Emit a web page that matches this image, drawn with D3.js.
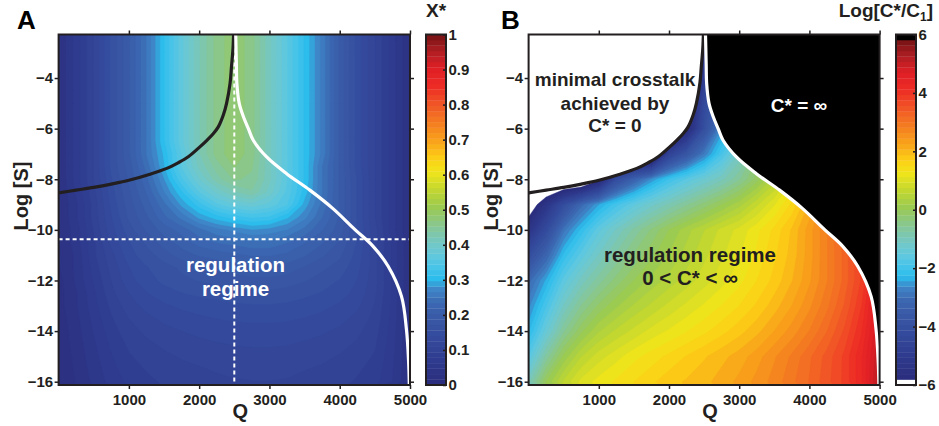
<!DOCTYPE html>
<html>
<head>
<meta charset="utf-8">
<script src="https://cdn.jsdelivr.net/npm/d3@7"></script>
<style>
  html, body { margin: 0; padding: 0; background: #fff; }
  svg { display: block; font-family: "Liberation Sans", Arial, Helvetica, sans-serif; font-weight: bold; }
</style>
</head>
<body>
<svg id="fig" width="939" height="426"></svg>
<script>
// ---- sample grid: Q (columns) and log10[S] (rows) ----
const qSamples = [0, 250, 500, 750, 1000, 1250, 1500, 1750, 2000, 2250, 2500,
                  2750, 3000, 3250, 3500, 3750, 4000, 4250, 4500, 4750, 5000];
const logSSamplesA = [-2, -2.5, -3, -3.5, -4, -4.5, -5, -5.5, -6, -6.5, -7, -7.5, -8, -8.5, -9,
                      -9.5, -10, -10.5, -11, -11.5, -12, -12.5, -13, -13.5, -14, -14.5, -15, -15.5, -16];
const logSSamplesB = [-2, -3, -4, -5, -6, -7, -8, -9, -10, -11, -12, -13, -14, -15, -16];

// ---- panel A: optimal crosstalk X* (one row per log[S] sample) ----
const xStarRows = [
  [0.03,0.07,0.11,0.16,0.20,0.25,0.31,0.37,0.42,0.46,0.48,0.46,0.41,0.36,0.31,0.26,0.20,0.15,0.11,0.07,0.03], // -2
  [0.03,0.07,0.11,0.16,0.20,0.25,0.31,0.37,0.42,0.46,0.48,0.46,0.41,0.36,0.31,0.26,0.20,0.15,0.11,0.07,0.03], // -2.5
  [0.03,0.07,0.11,0.16,0.20,0.25,0.31,0.37,0.42,0.46,0.48,0.46,0.41,0.36,0.31,0.26,0.20,0.15,0.11,0.07,0.03], // -3
  [0.03,0.07,0.11,0.16,0.20,0.25,0.31,0.37,0.42,0.46,0.48,0.46,0.41,0.36,0.31,0.26,0.20,0.15,0.11,0.07,0.03], // -3.5
  [0.03,0.07,0.11,0.16,0.20,0.25,0.31,0.37,0.42,0.46,0.48,0.46,0.41,0.36,0.31,0.26,0.20,0.15,0.11,0.07,0.03], // -4
  [0.03,0.07,0.11,0.16,0.20,0.25,0.31,0.37,0.42,0.46,0.48,0.46,0.41,0.36,0.31,0.26,0.20,0.15,0.11,0.07,0.03], // -4.5
  [0.03,0.07,0.11,0.16,0.20,0.25,0.31,0.37,0.42,0.46,0.48,0.46,0.41,0.36,0.31,0.26,0.20,0.15,0.11,0.07,0.03], // -5
  [0.03,0.07,0.11,0.16,0.20,0.25,0.31,0.37,0.42,0.46,0.48,0.46,0.41,0.36,0.31,0.26,0.20,0.15,0.11,0.07,0.03], // -5.5
  [0.03,0.07,0.11,0.16,0.20,0.25,0.31,0.37,0.42,0.46,0.48,0.46,0.41,0.36,0.31,0.26,0.20,0.15,0.11,0.07,0.03], // -6
  [0.03,0.07,0.11,0.16,0.20,0.25,0.31,0.37,0.42,0.46,0.48,0.46,0.41,0.36,0.31,0.26,0.20,0.15,0.11,0.07,0.03], // -6.5
  [0.03,0.07,0.11,0.16,0.20,0.25,0.30,0.36,0.42,0.46,0.48,0.46,0.41,0.36,0.31,0.26,0.20,0.15,0.11,0.07,0.03], // -7
  [0.03,0.07,0.11,0.16,0.195,0.24,0.295,0.36,0.41,0.445,0.47,0.455,0.41,0.36,0.31,0.25,0.20,0.15,0.11,0.07,0.03], // -7.5
  [0.03,0.07,0.11,0.155,0.19,0.23,0.28,0.34,0.39,0.43,0.455,0.45,0.41,0.36,0.31,0.25,0.20,0.155,0.11,0.07,0.03], // -8
  [0.03,0.065,0.105,0.15,0.185,0.22,0.265,0.31,0.36,0.395,0.42,0.435,0.40,0.355,0.305,0.25,0.20,0.155,0.11,0.07,0.03], // -8.5
  [0.03,0.06,0.10,0.145,0.18,0.21,0.245,0.285,0.32,0.355,0.375,0.385,0.37,0.345,0.29,0.245,0.20,0.155,0.11,0.07,0.03], // -9
  [0.03,0.06,0.10,0.14,0.175,0.20,0.23,0.255,0.285,0.305,0.32,0.33,0.325,0.30,0.27,0.235,0.20,0.155,0.11,0.07,0.03], // -9.5
  [0.03,0.055,0.095,0.135,0.165,0.19,0.21,0.225,0.245,0.26,0.27,0.28,0.275,0.265,0.245,0.22,0.195,0.155,0.115,0.07,0.03], // -10
  [0.03,0.055,0.09,0.13,0.155,0.175,0.195,0.21,0.225,0.235,0.24,0.245,0.245,0.235,0.22,0.205,0.185,0.155,0.115,0.075,0.03], // -10.5
  [0.03,0.05,0.09,0.12,0.15,0.165,0.18,0.195,0.205,0.21,0.215,0.22,0.22,0.215,0.205,0.19,0.175,0.15,0.115,0.075,0.03], // -11
  [0.03,0.05,0.085,0.115,0.14,0.155,0.165,0.175,0.185,0.19,0.195,0.2,0.2,0.195,0.185,0.175,0.165,0.145,0.115,0.075,0.03], // -11.5
  [0.025,0.05,0.08,0.11,0.135,0.15,0.16,0.168,0.173,0.177,0.18,0.183,0.183,0.18,0.173,0.165,0.155,0.14,0.115,0.075,0.03], // -12
  [0.025,0.045,0.075,0.105,0.125,0.14,0.15,0.156,0.16,0.163,0.166,0.168,0.168,0.165,0.16,0.155,0.148,0.135,0.112,0.075,0.03], // -12.5
  [0.025,0.045,0.072,0.098,0.118,0.13,0.138,0.144,0.148,0.151,0.153,0.155,0.155,0.153,0.15,0.145,0.138,0.128,0.108,0.073,0.03], // -13
  [0.022,0.042,0.068,0.092,0.11,0.121,0.129,0.134,0.138,0.141,0.143,0.144,0.144,0.143,0.14,0.136,0.13,0.12,0.104,0.072,0.03], // -13.5
  [0.02,0.04,0.064,0.087,0.103,0.113,0.12,0.125,0.129,0.132,0.134,0.135,0.135,0.134,0.131,0.127,0.122,0.113,0.1,0.07,0.03], // -14
  [0.02,0.038,0.06,0.082,0.097,0.106,0.113,0.118,0.121,0.124,0.126,0.127,0.127,0.126,0.123,0.12,0.115,0.107,0.096,0.068,0.03], // -14.5
  [0.018,0.036,0.057,0.077,0.092,0.1,0.106,0.111,0.114,0.117,0.119,0.12,0.12,0.119,0.116,0.113,0.108,0.101,0.092,0.066,0.03], // -15
  [0.017,0.034,0.054,0.073,0.087,0.095,0.1,0.105,0.108,0.111,0.113,0.114,0.114,0.113,0.11,0.107,0.103,0.096,0.088,0.064,0.03], // -15.5
  [0.016,0.032,0.051,0.069,0.082,0.09,0.096,0.1,0.103,0.106,0.108,0.109,0.109,0.108,0.105,0.102,0.098,0.092,0.084,0.062,0.03]  // -16
];

// ---- panel B: Log[C*/C1] (one row per integer log[S]) ----
const logRatioRows = [
  [-7,-7,-7,-7,-7,-7,-7,-7,-7,-7,-5.0,-3.8,-2.8,-1.8,-0.8,0.0,0.8,1.6,2.4,3.2,4.0],               // -2
  [-7,-7,-7,-7,-7,-7,-7,-7,-7,-7,-5.0,-3.6,-2.6,-1.7,-0.8,0.0,0.8,1.6,2.4,3.2,4.0],               // -3
  [-7,-7,-7,-7,-7,-7,-7,-7,-7,-7,-4.8,-3.5,-2.5,-1.6,-0.7,0.1,0.9,1.7,2.5,3.3,4.1],               // -4
  [-7,-7,-7,-7,-7,-7,-7,-7,-7,-6.5,-4.3,-3.2,-2.2,-1.3,-0.4,0.4,1.2,2.0,2.8,3.5,4.2],             // -5
  [-7,-7,-7,-7,-7,-7,-7,-7,-7,-5.9,-4.0,-2.6,-1.8,-1.0,-0.2,0.6,1.4,2.2,2.9,3.6,4.3],             // -6
  [-7,-7,-7,-7,-7,-7,-7,-7,-4.6,-3.7,-2.8,-1.9,-1.1,-0.4,0.3,1.0,1.65,2.3,2.9,3.5,4.1],           // -7
  [-7,-7,-7,-7,-6.0,-4.1,-3.3,-2.6,-2.05,-1.65,-1.3,-1.0,-0.6,-0.1,0.45,1.05,1.65,2.25,2.85,3.45,4.1], // -8
  [-6.3,-5.3,-4.1,-3.1,-2.45,-1.95,-1.55,-1.2,-0.9,-0.6,-0.3,0.0,0.3,0.7,1.1,1.55,2.1,2.65,3.15,3.7,4.4], // -9
  [-5.3,-4.2,-2.9,-2.2,-1.55,-1.1,-0.7,-0.35,0.0,0.3,0.55,0.8,1.0,1.25,1.55,1.9,2.35,2.8,3.3,3.8,4.6],    // -10
  [-4.1,-3.2,-2.2,-1.6,-1.1,-0.7,-0.35,-0.05,0.2,0.45,0.7,0.9,1.1,1.35,1.65,1.95,2.35,2.8,3.25,3.8,4.6],  // -11
  [-3.1,-2.4,-1.6,-1.05,-0.65,-0.3,0.0,0.25,0.45,0.65,0.85,1.05,1.25,1.5,1.75,2.05,2.4,2.8,3.25,3.8,4.7], // -12
  [-2.7,-1.9,-1.1,-0.55,-0.15,0.15,0.4,0.6,0.8,0.98,1.15,1.32,1.5,1.72,1.97,2.25,2.58,2.95,3.4,3.95,4.85], // -13
  [-2.3,-1.4,-0.6,-0.05,0.35,0.6,0.8,1.0,1.15,1.3,1.45,1.62,1.8,2.0,2.25,2.52,2.82,3.18,3.6,4.12,4.95],   // -14
  [-1.7,-0.7,0.05,0.55,0.85,1.05,1.25,1.4,1.55,1.7,1.85,2.0,2.15,2.35,2.6,2.85,3.15,3.45,3.8,4.3,5.1],    // -15
  [-1.0,0.0,0.6,1.0,1.2,1.35,1.5,1.65,1.8,1.9,2.0,2.15,2.3,2.5,2.7,2.95,3.2,3.5,3.8,4.3,5.2]              // -16
];

// ---- regime boundaries [Q, log S] ----
// lower edge of the C* = 0 region (black line)
const zeroBoundary = [[0,-8.54],[250,-8.43],[500,-8.32],[750,-8.19],[1000,-8.04],[1300,-7.80],
  [1540,-7.57],[1700,-7.35],[1850,-7.10],[2010,-6.72],[2110,-6.46],[2200,-6.20],[2270,-5.94],
  [2345,-5.45],[2390,-5.00],[2440,-4.20],[2460,-3.55],[2480,-2.90],[2490,-2.28]];
// edge of the C* = infinity region (white line)
const infBoundary = [[2520,-2.28],[2530,-3.50],[2536,-4.20],[2570,-5.00],[2630,-5.53],[2700,-6.00],
  [2770,-6.46],[2960,-7.12],[3245,-7.78],[3575,-8.43],[3900,-9.15],[4217,-9.99],[4475,-10.65],
  [4689,-11.44],[4879,-12.63],[4950,-13.95],[4980,-15.20],[4990,-16.13]];

// guide lines in panel A
const qGuide = 2500;
const logSGuide = -10.37;

// ---- ticks ----
const qTicks = [1000, 2000, 3000, 4000, 5000];
const logSTicks = [-4, -6, -8, -10, -12, -14, -16];
const xStarTicks = [0, 0.1, 0.2, 0.3, 0.4, 0.5, 0.6, 0.7, 0.8, 0.9, 1];
const ratioTicks = [-6, -4, -2, 0, 2, 4, 6];

// ---- layout ----
const INK = "#231f20";
const svg = d3.select("#fig");
const plotTop = 34.5, plotBottom = 385;
const qView = [0, 5000];
const sView = [-16.13, -2.28];
const panelX = [[58.6, 410], [528.6, 879.6]];
const cbarX = [[426, 446], [896, 916]];

// jet-like colour ramp
const stops = [
  [0.00, "#2b2e7e"], [0.06, "#2f3a8d"], [0.13, "#344a9c"], [0.19, "#395aa7"], [0.23, "#3c68b2"],
  [0.27, "#3e86c7"], [0.30, "#2bbdec"], [0.33, "#45c3ea"], [0.36, "#5dc8e0"], [0.39, "#6ec8cf"],
  [0.42, "#7bc7b6"], [0.45, "#87c796"], [0.48, "#91c871"], [0.51, "#9dcb50"], [0.55, "#bcd534"],
  [0.61, "#f1e51b"], [0.65, "#fcce16"], [0.69, "#f9a91a"], [0.74, "#f5841f"], [0.80, "#f15a26"],
  [0.86, "#ed2b25"], [0.91, "#e01f26"], [0.96, "#ae1e23"], [1.00, "#7e1416"]];
const ramp = d3.scaleLinear().domain(stops.map(d => d[0])).range(stops.map(d => d[1]))
  .interpolate(d3.interpolateRgb).clamp(true);

const NB = 64;
const binsA = d3.range(NB).map(i => ramp(i / (NB - 1)));
const binsB = ["#ffffff"].concat(d3.range(NB - 2).map(i => ramp(i / (NB - 3))), ["#000000"]);

const defs = svg.append("defs");

function makeScales(k) {
  const x = d3.scaleLinear().domain(qView).range(panelX[k]);
  const y = d3.scaleLinear().domain(sView).range([plotBottom, plotTop]);
  return { x, y };
}

function drawField(k, rows, sSamples, lo, hi, colors) {
  const { x, y } = makeScales(k);
  const id = "clip" + k;
  defs.append("clipPath").attr("id", id).append("rect")
    .attr("x", panelX[k][0]).attr("y", plotTop)
    .attr("width", panelX[k][1] - panelX[k][0]).attr("height", plotBottom - plotTop);
  const g = svg.append("g").attr("clip-path", `url(#${id})`);
  const nq = qSamples.length, ns = sSamples.length;
  const dq = qSamples[1] - qSamples[0], ds = sSamples[0] - sSamples[1];
  const step = (hi - lo) / NB;
  const thresholds = d3.range(NB).map(i => i === 0 ? lo - 1000 : lo + i * step);
  const contours = d3.contours().size([nq, ns]).thresholds(thresholds)(rows.flat());
  const proj = d3.geoTransform({
    point(px, py) {
      this.stream.point(x(qSamples[0] + (px - 0.5) * dq), y(sSamples[0] - (py - 0.5) * ds));
    }
  });
  const path = d3.geoPath(proj);
  g.selectAll("path").data(contours).join("path")
    .attr("d", path)
    .attr("fill", (d, i) => colors[i])
    .attr("stroke", (d, i) => colors[i])
    .attr("stroke-width", 0.4);
  return { g, x, y };
}

function frameAndAxes(k, x, y) {
  const ax = svg.append("g");
  const fmt = d3.format("d");
  const styleAxis = sel => {
    sel.select(".domain").remove();
    sel.selectAll("line").attr("stroke", INK).attr("stroke-width", 1.5);
    sel.selectAll("text").attr("fill", INK).attr("font-size", 15).attr("font-family", null);
  };
  ax.append("g").attr("transform", `translate(0,${plotBottom})`)
    .call(d3.axisBottom(x).tickValues(qTicks).tickSize(4).tickPadding(5).tickFormat(fmt)).call(styleAxis);
  ax.append("g").attr("transform", `translate(0,${plotTop})`)
    .call(d3.axisTop(x).tickValues(qTicks).tickSize(4).tickFormat("")).call(styleAxis);
  ax.append("g").attr("transform", `translate(${panelX[k][0]},0)`)
    .call(d3.axisLeft(y).tickValues(logSTicks).tickSize(4).tickPadding(1.5).tickFormat(fmt)).call(styleAxis);
  ax.append("g").attr("transform", `translate(${panelX[k][1]},0)`)
    .call(d3.axisRight(y).tickValues(logSTicks).tickSize(4).tickFormat("")).call(styleAxis);
  svg.append("rect")
    .attr("x", panelX[k][0]).attr("y", plotTop)
    .attr("width", panelX[k][1] - panelX[k][0]).attr("height", plotBottom - plotTop)
    .attr("fill", "none").attr("stroke", INK).attr("stroke-width", 2);
  // axis titles
  const cx = (panelX[k][0] + panelX[k][1]) / 2;
  svg.append("text").attr("x", cx + 6).attr("y", 417.5).attr("text-anchor", "middle")
    .attr("font-size", 20).attr("fill", INK).text("Q");
  svg.append("text").attr("transform", `translate(${panelX[k][0] - 30.5},196) rotate(-90)`)
    .attr("text-anchor", "middle").attr("font-size", 20).attr("fill", INK).text("Log [S]");
}

function colorbar(k, lo, hi, colors, ticks, tickFmt) {
  const [x0, x1] = cbarX[k];
  const yc = d3.scaleLinear().domain([lo, hi]).range([plotBottom, plotTop]);
  const step = (hi - lo) / NB;
  const g = svg.append("g");
  g.selectAll("rect").data(colors).join("rect")
    .attr("x", x0).attr("width", x1 - x0)
    .attr("y", (d, i) => yc(lo + (i + 1) * step))
    .attr("height", (d, i) => yc(lo + i * step) - yc(lo + (i + 1) * step) + 0.3)
    .attr("fill", d => d);
  const ax = svg.append("g").attr("transform", `translate(${x1},0)`)
    .call(d3.axisRight(yc).tickValues(ticks).tickSize(-3).tickPadding(2.5).tickFormat(tickFmt));
  ax.select(".domain").remove();
  ax.selectAll("line").attr("stroke", INK).attr("stroke-width", 1.5);
  ax.selectAll("text").attr("fill", INK).attr("font-size", 15).attr("font-family", null);
  svg.append("rect").attr("x", x0).attr("y", plotTop).attr("width", x1 - x0)
    .attr("height", plotBottom - plotTop).attr("fill", "none").attr("stroke", INK).attr("stroke-width", 2);
}

const boundaryLine = (x, y) => d3.line().x(d => x(d[0])).y(d => y(d[1])).curve(d3.curveCatmullRom.alpha(0.5));

// ================= Panel A =================
{
  const { g, x, y } = drawField(0, xStarRows, logSSamplesA, 0, 1, binsA);
  // guide lines
  g.append("line").attr("x1", x(qGuide)).attr("x2", x(qGuide))
    .attr("y1", plotTop).attr("y2", plotBottom)
    .attr("stroke", "#fff").attr("stroke-width", 2).attr("stroke-dasharray", "4,3");
  g.append("line").attr("x1", x(qView[0])).attr("x2", x(qView[1]))
    .attr("y1", y(logSGuide)).attr("y2", y(logSGuide))
    .attr("stroke", "#fff").attr("stroke-width", 2).attr("stroke-dasharray", "4,3");
  const line = boundaryLine(x, y);
  g.append("path").attr("d", line(zeroBoundary)).attr("fill", "none")
    .attr("stroke", INK).attr("stroke-width", 3.2);
  g.append("path").attr("d", line(infBoundary)).attr("fill", "none")
    .attr("stroke", "#fff").attr("stroke-width", 3.2);
  g.append("text").attr("x", 235.5).attr("y", 272).attr("text-anchor", "middle")
    .attr("font-size", 20.5).attr("fill", "#fff").text("regulation");
  g.append("text").attr("x", 235.5).attr("y", 296).attr("text-anchor", "middle")
    .attr("font-size", 20.5).attr("fill", "#fff").text("regime");
  frameAndAxes(0, x, y);
  colorbar(0, 0, 1, binsA, xStarTicks, d => String(d));
  svg.append("text").attr("x", 436).attr("y", 17).attr("text-anchor", "middle")
    .attr("font-size", 19).attr("fill", INK).text("X*");
  svg.append("text").attr("x", 17).attr("y", 29).attr("font-size", 26).attr("fill", "#000").text("A");
}

// ================= Panel B =================
{
  const { g, x, y } = drawField(1, logRatioRows, logSSamplesB, -6, 6, binsB);
  const line = boundaryLine(x, y);
  // C* = 0 region (white) above the black boundary
  g.append("path")
    .attr("d", line(zeroBoundary) + `L${x(qView[0])},${y(sView[1]) - 2}L${x(qView[0]) - 2},${y(sView[1]) - 2}L${x(qView[0]) - 2},${y(zeroBoundary[0][1])}Z`)
    .attr("fill", "#fff");
  // C* = infinity region (black) right of the white boundary
  g.append("path")
    .attr("d", line(infBoundary) + `L${x(qView[1]) + 2},${y(sView[0]) + 2}L${x(qView[1]) + 2},${y(sView[1]) - 2}L${x(infBoundary[0][0])},${y(sView[1]) - 2}Z`)
    .attr("fill", "#000");
  g.append("path").attr("d", line(zeroBoundary)).attr("fill", "none")
    .attr("stroke", INK).attr("stroke-width", 3.2);
  g.append("path").attr("d", line(infBoundary)).attr("fill", "none")
    .attr("stroke", "#fff").attr("stroke-width", 3.2);

  const label = (tx, ty, s, fill, size) => g.append("text").attr("x", tx).attr("y", ty)
    .attr("text-anchor", "middle").attr("font-size", size).attr("fill", fill).text(s);
  label(615, 86, "minimal crosstalk", INK, 19);
  label(615, 110, "achieved by", INK, 19);
  label(615, 132, "C* = 0", INK, 19);
  label(799, 112, "C* = \u221e", "#fff", 19);
  label(690, 261.5, "regulation regime", INK, 20.5);
  label(690, 285, "0 < C* < \u221e", INK, 20.5);

  frameAndAxes(1, x, y);
  colorbar(1, -6, 6, binsB, ratioTicks, d3.format("d"));
  const t = svg.append("text").attr("x", 933).attr("y", 17).attr("text-anchor", "end")
    .attr("font-size", 19).attr("fill", INK);
  t.append("tspan").text("Log[C*/C");
  t.append("tspan").attr("font-size", 12).attr("dy", 4).text("1");
  t.append("tspan").attr("dy", -4).text("]");
  svg.append("text").attr("x", 501).attr("y", 29).attr("font-size", 26).attr("fill", "#000").text("B");
}
</script>
</body>
</html>
